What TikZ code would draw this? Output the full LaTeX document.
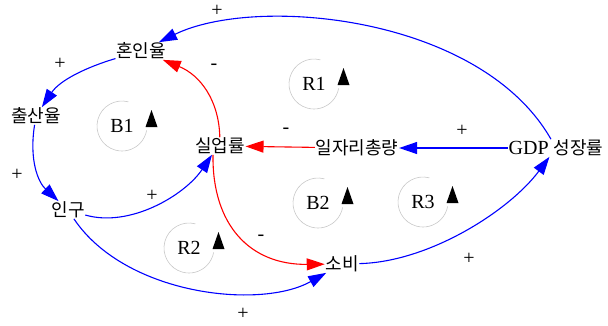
\documentclass[tikz,border=0pt]{standalone}
\usepackage{fontspec}
\setmainfont{Liberation Serif}
\newfontfamily\kr{Noto Sans CJK KR}
\usetikzlibrary{arrows.meta}
\definecolor{linkblue}{RGB}{0,0,255}
\definecolor{linkred}{RGB}{255,0,0}
\definecolor{loopgrey}{RGB}{200,200,200}
\begin{document}
\begin{tikzpicture}[x=1pt,y=-1pt,
  var/.style={inner sep=0.5pt, font=\kr\fontsize{18}{20}\selectfont},
  sign/.style={inner sep=0pt, font=\fontsize{20}{22}\selectfont},
  looplabel/.style={inner sep=0pt, font=\fontsize{20}{22}\selectfont},
  poslink/.style={draw=linkblue, line width=1.1pt, -{Triangle[length=18pt,width=12pt]}},
  neglink/.style={draw=linkred, line width=1.1pt, -{Triangle[length=18pt,width=12pt]}},
  loopc/.style={draw=loopgrey, line width=0.6pt},
  looptri/.style={fill=black}
]
\useasboundingbox (0,0) rectangle (608,325);

% variables
\node[var] (hon)  at (141,51)  {혼인율};
\node[var] (chul) at (36,116)  {출산율};
\node[var] (ingu) at (68,210)  {인구};
\node[var] (sil)  at (220,146) {실업률};
\node[var] (il)   at (357,148) {일자리총량};
\node[var] (gdp)  at (556,148) {\fontsize{20}{22}\selectfont\rmfamily GDP \kr\fontsize{18}{20}\selectfont 성장률};
\node[var] (sobi) at (342,264) {소비};

% loop symbols
\foreach \nm/\txt/\cx/\cy in {b1/B1/122/126, r1/R1/314/84, r2/R2/189/248, b2/B2/318/203, r3/R3/423/202}{
  \node[looplabel] (\nm) at (\cx,\cy) {\txt};
  \draw[loopc] ([shift={(-75:25)}]\nm.center) arc[start angle=-75, end angle=-350, radius=25];
  \fill[looptri] ([shift={(23.5,1)}]\nm.center) -- ++(12,0) -- ++(-6,-17) -- cycle;
}

% links
\draw[poslink] (gdp) .. controls (480,15) and (255,-5) .. (hon);
\draw[poslink] (hon) .. controls (87,67) and (60,80) .. (chul);
\draw[poslink] (chul) .. controls (29,160) and (38,182) .. (ingu);
\draw[poslink] (ingu) .. controls (130,228) and (185,195) .. ([xshift=-8pt]sil.south);
\draw[poslink] (ingu) .. controls (125,295) and (260,310) .. (sobi);
\draw[neglink] (sil) .. controls (219,100) and (200,75) .. (hon);
\draw[neglink] (il) -- (sil);
\draw[neglink] ([xshift=-7pt]sil.south) .. controls (212,225) and (250,265) .. (sobi);
\draw[poslink] (sobi) .. controls (430,262) and (510,210) .. (gdp);
\draw[poslink] (gdp) -- (il);

% polarity signs
\node[sign] (s1)  at (217,11)  {+};
\node[sign] (s2)  at (60,64)   {+};
\node[sign] (s3)  at (214,67)  {-};
\node[sign] (s4)  at (286,131) {-};
\node[sign] (s5)  at (462,131) {+};
\node[sign] (s6)  at (17,175)  {+};
\node[sign] (s7)  at (152,196) {+};
\node[sign] (s8)  at (261,238) {-};
\node[sign] (s9)  at (243,314) {+};
\node[sign] (s10) at (469,259) {+};
\end{tikzpicture}
\end{document}
